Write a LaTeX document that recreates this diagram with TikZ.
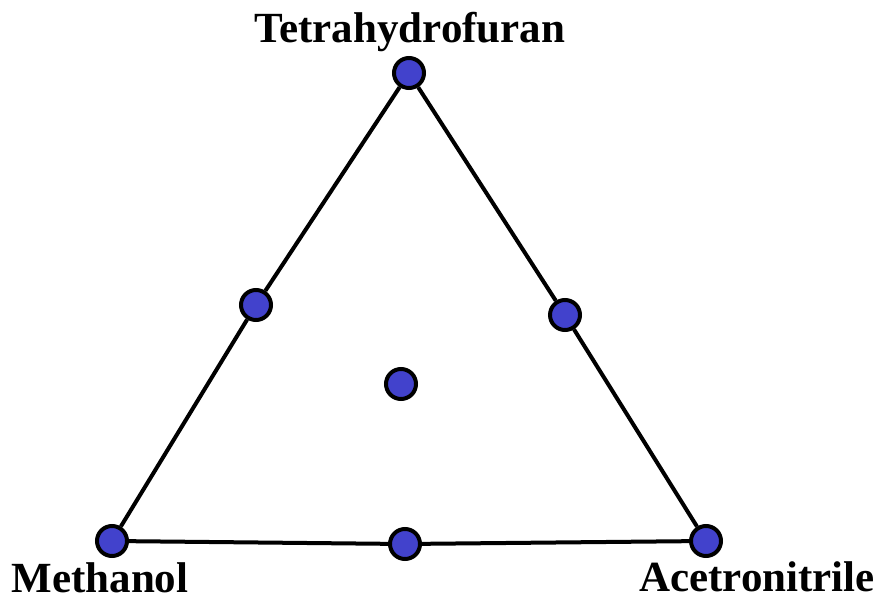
\documentclass[tikz,border=0pt]{standalone}
\usepackage{fontspec}
\setmainfont{Liberation Serif}
\definecolor{dotblue}{RGB}{66,66,204}
\begin{document}
\begin{tikzpicture}[x=1pt,y=-1pt,
  dot/.style={circle,draw=black,line width=4pt,fill=dotblue,minimum size=30pt,inner sep=0pt},
  lab/.style={font=\fontsize{43}{43}\selectfont\bfseries,anchor=base,inner sep=0pt},
  edge/.style={line width=4pt}]
\useasboundingbox (0,0) rectangle (885,601);
\node[dot] (T) at (409,73) {};
\node[dot] (M) at (112,541) {};
\node[dot] (A) at (706,541) {};
\node[dot] (L) at (256,305) {};
\node[dot] (R) at (565,315) {};
\node[dot] (B) at (405,544) {};
\node[dot] (C) at (401,384) {};
\draw[edge] (T) -- (L) -- (M) -- (B) -- (A) -- (R) -- (T);
\node[lab] (tT) at (410,43) {Tetrahydrofuran};
\node[lab] (tM) at (100,592) {Methanol};
\node[lab] (tA) at (757,591) {Acetronitrile};
\end{tikzpicture}
\end{document}
